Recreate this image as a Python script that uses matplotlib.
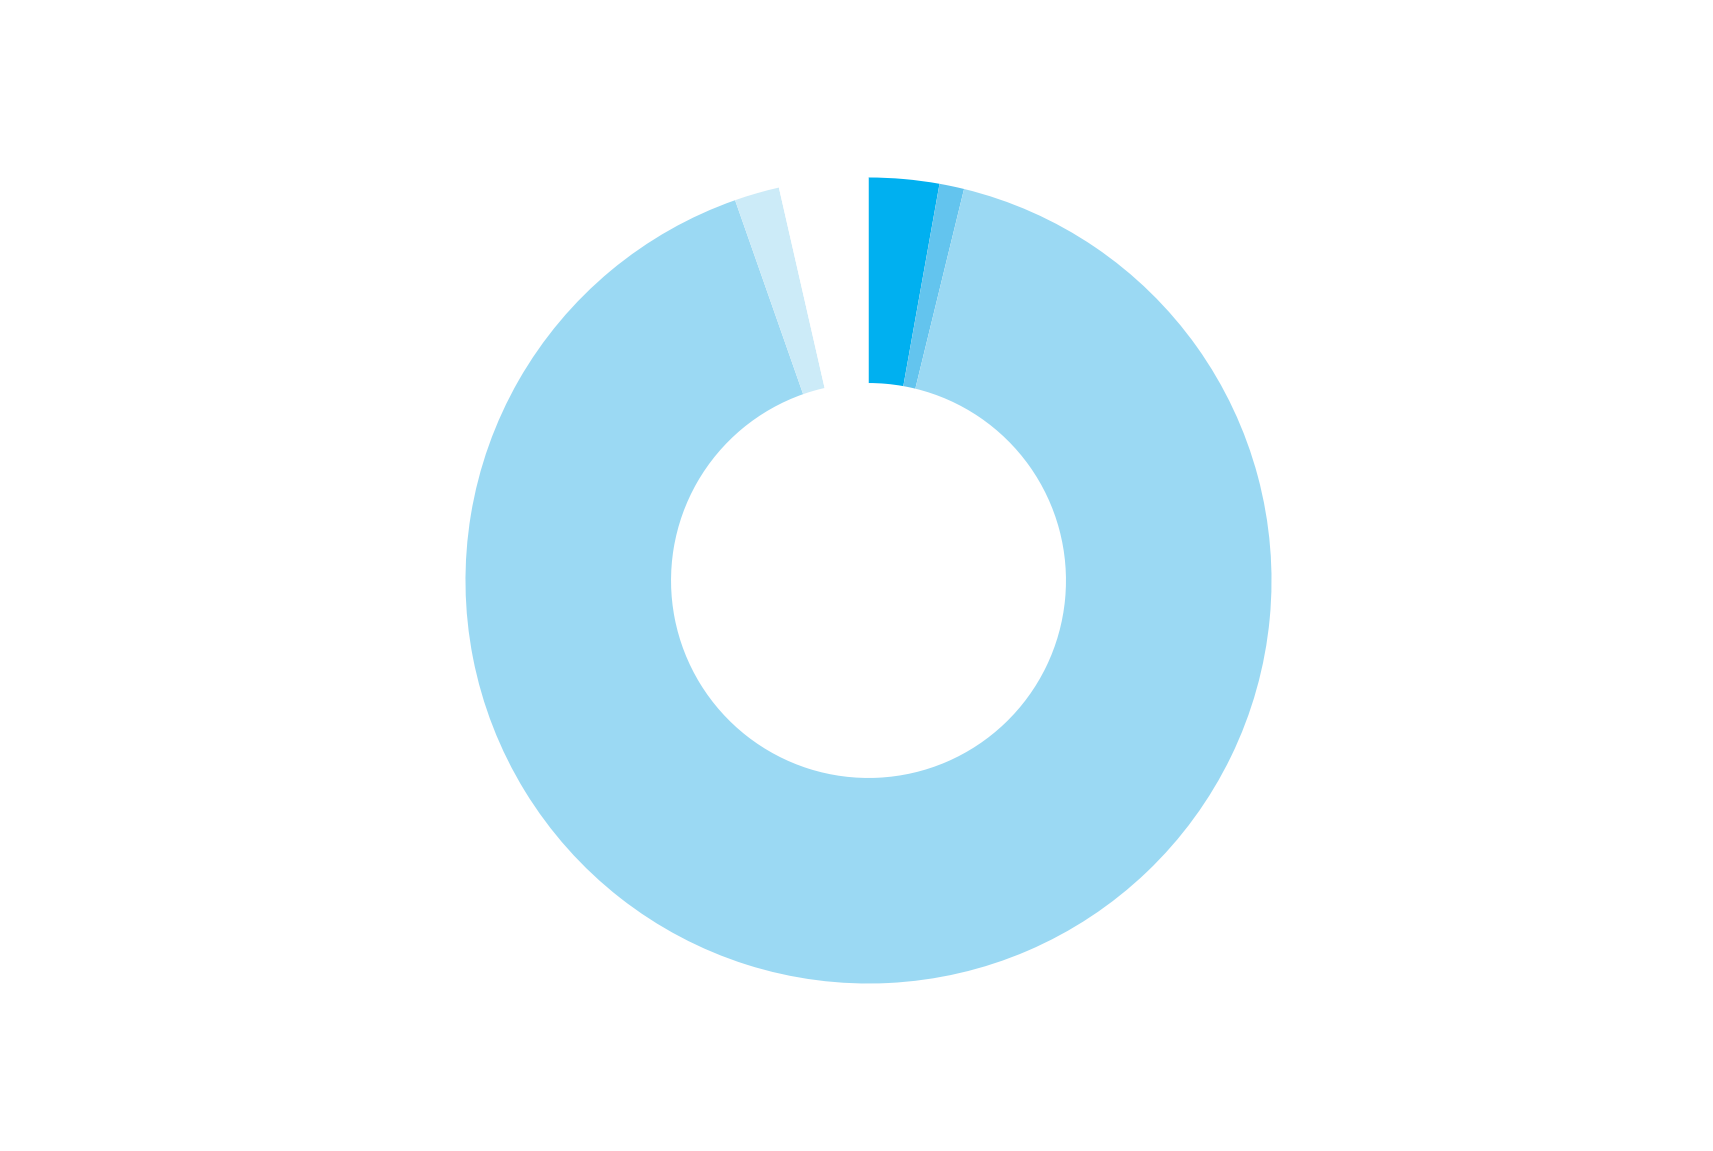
import matplotlib
matplotlib.use('Agg')
import matplotlib.pyplot as plt

# Slice shares in percent, clockwise from 12 o'clock (last one is the empty gap)
labels = ['A', 'B', 'C', 'D', 'Gap']
shares = [2.82, 0.99, 90.82, 1.80, 3.57]
colors = ['#00B0F0', '#63C4EE', '#9BD9F3', '#CCEBF8', '#FFFFFF']

fig = plt.figure(figsize=(17.13, 11.51), dpi=100)
# square axes centred on the donut (radius ~403 px)
ax = fig.add_axes([(868.5 - 403) / 1713, (570.5 - 403) / 1151, 806 / 1713, 806 / 1151])

ax.pie(shares, colors=colors, startangle=90, counterclock=False, radius=1.0,
       wedgeprops=dict(width=0.51, linewidth=0, edgecolor='none', antialiased=True))
ax.set_xlim(-1, 1)
ax.set_ylim(-1, 1)
ax.set_aspect('equal')
ax.axis('off')

fig.savefig('out.png', dpi=100, facecolor='white')
